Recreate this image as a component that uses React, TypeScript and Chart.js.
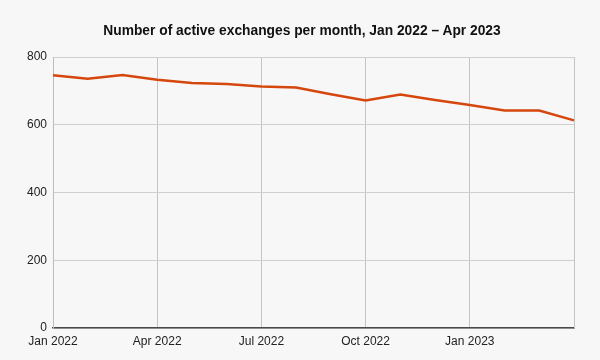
import React, { useEffect, useRef } from "react";
import { Chart, registerables } from "chart.js";

Chart.register(...registerables);

const TITLE = "Number of active exchanges per month, Jan 2022 – Apr 2023";
const MONTHS = [
  "Jan 2022", "Feb 2022", "Mar 2022", "Apr 2022", "May 2022", "Jun 2022",
  "Jul 2022", "Aug 2022", "Sep 2022", "Oct 2022", "Nov 2022", "Dec 2022",
  "Jan 2023", "Feb 2023", "Mar 2023", "Apr 2023",
];
const ACTIVE_EXCHANGES = [746, 736, 747, 733, 723, 720, 713, 710, 690, 672, 689, 673, 658, 642, 642, 613];
const SHOWN_X_LABELS = ["Jan 2022", "Apr 2022", "Jul 2022", "Oct 2022", "Jan 2023"];
const Y_TICKS = [0, 200, 400, 600, 800];

export default function App() {
  const ref = useRef<HTMLCanvasElement | null>(null);

  useEffect(() => {
    document.body.style.margin = "0";
    const canvas = ref.current!;
    const chart = new Chart(canvas, {
      type: "line",
      data: {
        labels: MONTHS,
        datasets: [
          {
            label: "Active exchanges",
            data: ACTIVE_EXCHANGES,
            borderColor: "#d5470c",
            borderWidth: 2.5,
            pointRadius: 0,
            tension: 0,
            fill: false,
          },
        ],
      },
      options: {
        animation: false,
        responsive: false,
        maintainAspectRatio: false,
        layout: { padding: { left: 0, right: 26, top: 57, bottom: 0 } },
        plugins: {
          legend: { display: false },
          title: { display: false },
          tooltip: { enabled: false },
        },
        scales: {
          x: {
            type: "category",
            offset: false,
            afterFit: (s: any) => {
              s.height = 32;
            },
            grid: {
              drawTicks: false,
              color: (ctx: any) => (ctx.index % 3 === 0 ? "#c4c4c4" : "rgba(0,0,0,0)"),
              lineWidth: 1,
            },
            border: { color: "#4a4a4a", width: 1.5 },
            ticks: {
              autoSkip: false,
              maxRotation: 0,
              padding: 6,
              color: "#222",
              font: { family: "'Liberation Sans', Arial, sans-serif", size: 12 },
              callback: (_v: any, i: number) =>
                SHOWN_X_LABELS.includes(MONTHS[i]) ? MONTHS[i] : "",
            },
          },
          y: {
            min: 0,
            max: 800,
            afterFit: (s: any) => {
              s.width = 53;
            },
            afterBuildTicks: (s: any) => {
              s.ticks = Y_TICKS.map((v) => ({ value: v }));
            },
            grid: { drawTicks: false, color: "#cfcfcf", lineWidth: 1 },
            border: { color: "#bdbdbd", width: 1 },
            ticks: {
              padding: 6,
              color: "#222",
              font: { family: "'Liberation Sans', Arial, sans-serif", size: 12 },
            },
          },
        },
      },
      plugins: [
        {
          id: "rightEdge",
          afterDraw: (c: any) => {
            const { ctx, chartArea } = c;
            ctx.save();
            ctx.strokeStyle = "#c4c4c4";
            ctx.lineWidth = 1;
            ctx.beginPath();
            ctx.moveTo(chartArea.right + 0.5, chartArea.top);
            ctx.lineTo(chartArea.right + 0.5, chartArea.bottom);
            ctx.stroke();
            ctx.restore();
          },
        },
      ],
    });
    return () => chart.destroy();
  }, []);

  return (
    <div
      style={{
        position: "absolute",
        left: 0,
        top: 0,
        width: 600,
        height: 360,
        background: "#f7f7f7",
        overflow: "hidden",
      }}
    >
      <div
        style={{
          position: "absolute",
          left: 0,
          top: 22,
          width: 604,
          textAlign: "center",
          whiteSpace: "nowrap",
          fontFamily: "'Liberation Sans', Arial, sans-serif",
          fontWeight: "bold",
          fontSize: 13.8,
          color: "#111",
          lineHeight: "17px",
        }}
      >
        {TITLE}
      </div>
      <canvas ref={ref} width={600} height={360} style={{ display: "block" }} />
    </div>
  );
}
